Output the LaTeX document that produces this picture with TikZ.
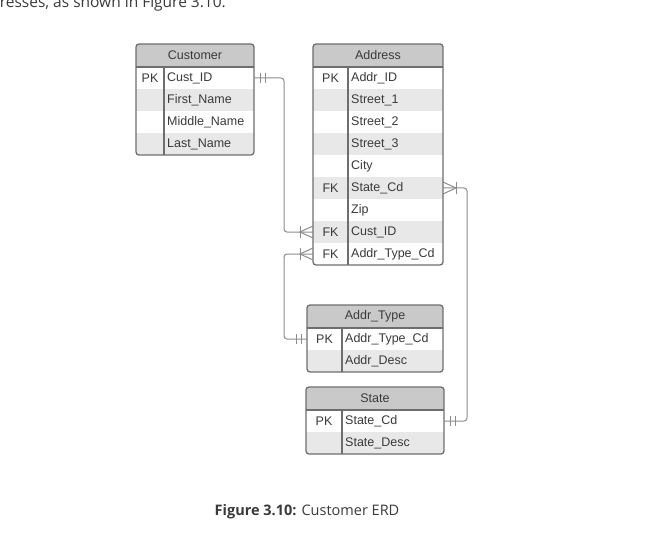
\documentclass[tikz,border=0pt]{standalone}
\usepackage{fontspec}
\setmainfont{Liberation Sans}
\newfontfamily\capfont{Open Sans}
\usetikzlibrary{calc}
\definecolor{hdrgray}{HTML}{C9C9C9}
\definecolor{rowgray}{HTML}{E8E8E8}
\definecolor{boxline}{HTML}{6E6E6E}
\definecolor{connline}{HTML}{8C8C8C}
\definecolor{txtcol}{HTML}{3A3A3A}
\tikzset{
  boxborder/.style={draw=boxline,line width=1.3pt,rounded corners=3pt},
  keytext/.style={font=\fontsize{12.5}{14}\selectfont,text=txtcol,inner sep=0pt},
  fieldtext/.style={font=\fontsize{12.5}{14}\selectfont,text=txtcol,inner sep=0pt,anchor=west},
  titletext/.style={font=\fontsize{12.5}{14}\selectfont,text=txtcol,inner sep=0pt},
  conn/.style={draw=connline,line width=1pt},
}
% #1 name, #2 left, #3 right, #4 divider, #5 top, #6 number of rows, #7 title, #8 rows key/field/shade
\newcommand{\erdtable}[8]{%
  \pgfmathsetmacro\erdbot{#5+23+#6*22}
  \begin{scope}
    \clip[rounded corners=3pt] (#2,#5) rectangle (#3,\erdbot);
    \fill[white] (#2,#5) rectangle (#3,\erdbot);
    \fill[hdrgray] (#2,#5) rectangle (#3,#5+23);
    \foreach \k/\f/\s [count=\i] in {#8} {
      \pgfmathsetmacro\ya{#5+23+(\i-1)*22}
      \ifnum\s=1 \fill[rowgray] (#2,\ya) rectangle (#3,\ya+22);\fi
    }
  \end{scope}
  \node[titletext] (#1) at ({(#2+#3)/2},#5+11.5) {#7};
  \foreach \k/\f/\s [count=\i] in {#8} {
    \pgfmathsetmacro\yc{#5+23+(\i-1)*22+11}
    \node[keytext] (#1-k\i) at ({(#2+#4)/2},\yc) {\k};
    \node[fieldtext] (#1-f\i) at (#4+3,\yc) {\f};
    \coordinate (#1-L\i) at (#2,\yc);
    \coordinate (#1-R\i) at (#3,\yc);
  }
  \draw[boxline,line width=1.3pt] (#2,#5+23) -- (#3,#5+23);
  \draw[boxline,line width=1.3pt] (#4,#5+23) -- (#4,\erdbot);
  \draw[boxborder] (#2,#5) rectangle (#3,\erdbot);
}
\newcommand{\onebar}[2]{%
  \draw[conn] ($(#1)+(#2*6,-5)$) -- ++(0,10) ($(#1)+(#2*11,-5)$) -- ++(0,10);}
\newcommand{\crowfoot}[2]{%
  \draw[conn] ($(#1)+(#2*13,-6)$) -- ++(0,12);
  \draw[conn] ($(#1)+(0,-6)$) -- ($(#1)+(#2*13,0)$) -- ($(#1)+(0,6)$);}
\begin{document}
\begin{tikzpicture}[x=1pt,y=-1pt]
\useasboundingbox (0,0) rectangle (653,540);
\clip (0,0) rectangle (653,540);
\fill[white] (0,0) rectangle (653,540);
\node[font=\capfont\fontsize{15.5}{18}\selectfont,text=txtcol,anchor=base east,inner sep=0pt] (intro) at (226,8) {addresses, as shown in Figure 3.10.};

\erdtable{cust}{136}{254}{164}{44}{4}{Customer}{PK/Cust\_ID/0,/First\_Name/1,/Middle\_Name/0,/Last\_Name/1}
\erdtable{addr}{313}{443}{348}{44}{9}{Address}{PK/Addr\_ID/0,/Street\_1/1,/Street\_2/0,/Street\_3/1,/City/0,FK/State\_Cd/1,/Zip/0,FK/Cust\_ID/1,FK/Addr\_Type\_Cd/0}
\erdtable{atype}{307}{443}{342}{305}{2}{Addr\_Type}{PK/Addr\_Type\_Cd/0,/Addr\_Desc/1}
\erdtable{state}{306}{444}{342}{387}{2}{State}{PK/State\_Cd/0,/State\_Desc/1}

\draw[conn,rounded corners=3pt] (cust-R1) -- ($(cust-R1)+(30,0)$) |- (addr-L8);
\draw[conn,rounded corners=3pt] (addr-L9) -- ($(addr-L9)+(-29,0)$) |- (atype-L1);
\draw[conn,rounded corners=3pt] (addr-R6) -- ($(addr-R6)+(24,0)$) |- (state-R1);
\onebar{cust-R1}{1}
\crowfoot{addr-L8}{-1}
\crowfoot{addr-L9}{-1}
\onebar{atype-L1}{-1}
\crowfoot{addr-R6}{1}
\onebar{state-R1}{1}

\node[font=\capfont\fontsize{14.5}{17}\selectfont,text=txtcol,anchor=base,inner sep=0pt] (caption) at (307,515) {\textbf{Figure 3.10:} Customer ERD};
\end{tikzpicture}
\end{document}
